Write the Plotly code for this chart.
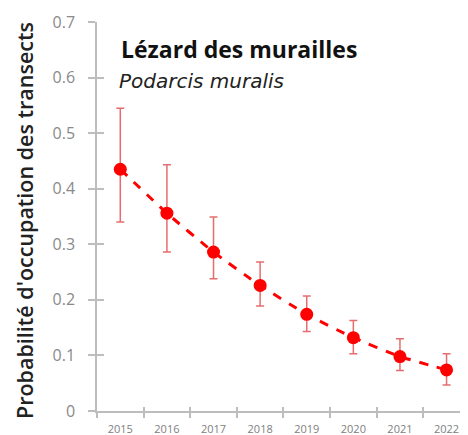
import plotly.graph_objects as go

years = ["2015", "2016", "2017", "2018", "2019", "2020", "2021", "2022"]
prob = [0.435, 0.356, 0.286, 0.226, 0.174, 0.132, 0.098, 0.074]
upper = [0.545, 0.443, 0.349, 0.268, 0.207, 0.163, 0.130, 0.103]
lower = [0.340, 0.286, 0.238, 0.189, 0.143, 0.103, 0.073, 0.047]
y_ticks = [0, 0.1, 0.2, 0.3, 0.4, 0.5, 0.6, 0.7]
y_ticktext = ["0", "0.1", "0.2", "0.3", "0.4", "0.5", "0.6", "0.7"]

err_plus = [u - p for u, p in zip(upper, prob)]
err_minus = [p - l for p, l in zip(prob, lower)]

fig = go.Figure()
fig.add_trace(go.Scatter(
    x=years, y=prob, mode="lines+markers",
    line=dict(color="#ff0000", width=3, dash="dash", shape="spline", smoothing=0.5),
    marker=dict(color="#ff0000", size=13),
    error_y=dict(type="data", symmetric=False, array=err_plus, arrayminus=err_minus,
                 color="rgba(220,60,60,0.75)", thickness=1.5, width=4),
    showlegend=False, hoverinfo="skip",
))
fig.add_trace(go.Scatter(x=[0], y=[0], xaxis="x2", yaxis="y2", mode="markers",
                         marker=dict(opacity=0), showlegend=False, hoverinfo="skip"))

axis_gray = "#bdbdbd"
# page body has an 8px default margin; figure sized to fit the window
fig.update_layout(
    width=460, height=427,
    margin=dict(l=89, r=0, t=14, b=24, autoexpand=False),
    paper_bgcolor="white", plot_bgcolor="white",
    font=dict(family="Open Sans", color="#808080"),
    xaxis=dict(type="category", categoryorder="array", categoryarray=years,
               range=[-0.5, 7.46], tickson="boundaries", automargin=False,
               showline=True, linecolor=axis_gray, linewidth=1.5,
               ticks="outside", ticklen=5, tickcolor=axis_gray, tickwidth=1.5,
               ticklabelstandoff=7,
               tickfont=dict(size=11, color="#808080", family="Open Sans"),
               showgrid=False, zeroline=False, fixedrange=True),
    yaxis=dict(range=[0, 0.7], tickvals=y_ticks, ticktext=y_ticktext, automargin=False,
               showline=True, linecolor=axis_gray, linewidth=1.5,
               ticks="outside", ticklen=7, tickcolor=axis_gray, tickwidth=1.5,
               ticklabelstandoff=10,
               tickfont=dict(size=16, color="#8a8a8a", family="Open Sans"),
               showgrid=False, zeroline=False),
    xaxis2=dict(overlaying="x", range=[-0.5, 7.46], tickvals=[-0.5, 0.5, 1.5, 2.5, 3.5, 4.5, 5.5, 6.5, 7.5],
                showticklabels=False, ticks="inside", ticklen=4, tickcolor=axis_gray, tickwidth=1.5,
                showline=False, showgrid=False, zeroline=False, side="bottom", anchor="y2"),
    yaxis2=dict(overlaying="y", range=[0, 0.7], tickvals=y_ticks, showticklabels=False,
                ticks="inside", ticklen=7, tickcolor=axis_gray, tickwidth=1.5,
                showline=False, showgrid=False, zeroline=False, side="left", anchor="x2"),
    annotations=[
        dict(text="Probabilité d'occupation des transects", xref="paper", yref="paper",
             x=-0.195, y=0.49, xanchor="center", yanchor="middle", textangle=-90, showarrow=False,
             font=dict(size=21.5, color="#222222", family="Open Sans", weight=600)),
        dict(text="<b>Lézard des murailles</b>", xref="paper", yref="paper",
             x=0.06, y=0.93, xanchor="left", yanchor="middle", showarrow=False,
             font=dict(size=23, color="#111111", family="Open Sans")),
        dict(text="<i>Podarcis muralis</i>", xref="paper", yref="paper",
             x=0.055, y=0.848, xanchor="left", yanchor="middle", showarrow=False,
             font=dict(size=20, color="#222222", family="DejaVu Sans")),
    ],
)

fig.write_html("out.html")
